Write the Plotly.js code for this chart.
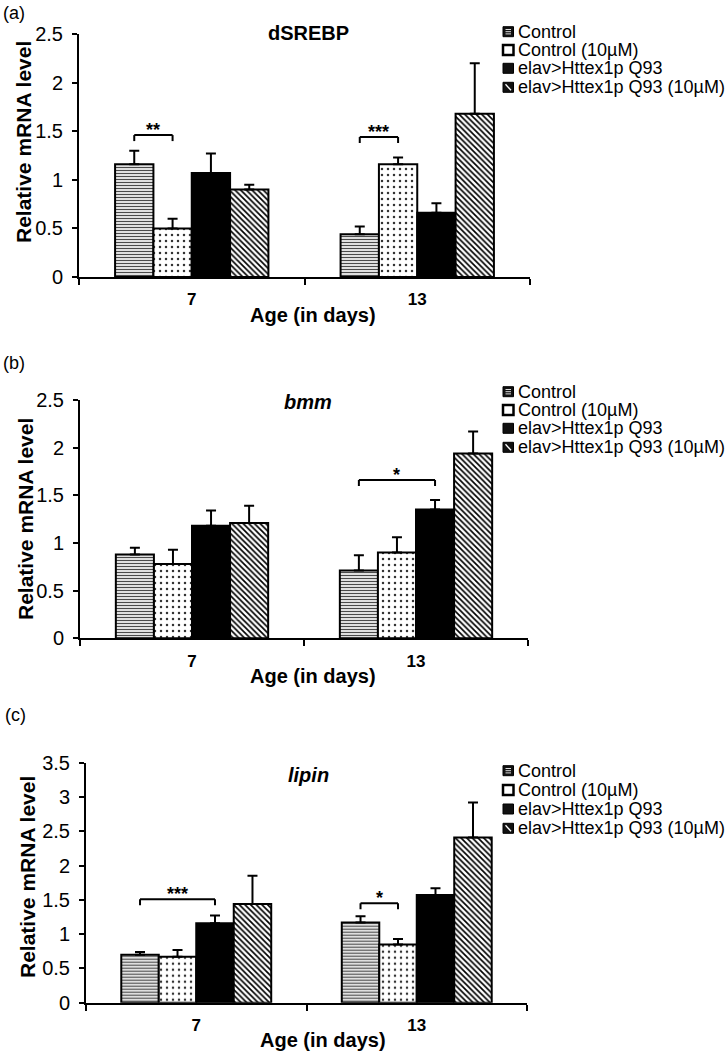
<!DOCTYPE html>
<html>
<head>
<meta charset="utf-8">
<script src="https://cdn.plot.ly/plotly-3.0.1.min.js"></script>
<style>html,body{margin:0;padding:0;background:#fff;}#chart{width:726px;height:1054px;}</style>
</head>
<body>
<div id="chart"></div>
<script>
// ---------------- DATA ----------------
const ageLabels = ["7", "13"];
const groupNames = ["Control", "Control (10µM)", "elav>Httex1p Q93", "elav>Httex1p Q93 (10µM)"];
const genes = ["dSREBP", "bmm", "lipin"];
const geneItalic = [false, true, true];
const panelLabels = ["(a)", "(b)", "(c)"];
const xAxisTitle = "Age (in days)";
const yAxisTitle = "Relative mRNA level";

// mean values per group: [day 7, day 13]
const dsrebpMeans = [[1.16, 0.44], [0.50, 1.16], [1.07, 0.66], [0.90, 1.68]];
const dsrebpErr   = [[0.14, 0.08], [0.10, 0.07], [0.20, 0.10], [0.05, 0.52]];
const bmmMeans    = [[0.88, 0.71], [0.78, 0.90], [1.18, 1.35], [1.21, 1.94]];
const bmmErr      = [[0.07, 0.16], [0.15, 0.16], [0.16, 0.10], [0.18, 0.23]];
const lipinMeans  = [[0.70, 1.17], [0.67, 0.85], [1.16, 1.57], [1.44, 2.41]];
const lipinErr    = [[0.04, 0.09], [0.10, 0.08], [0.11, 0.10], [0.41, 0.51]];
const yMax = [2.5, 2.5, 3.5];

// significance brackets
const sigGene  = [0, 0, 1, 2, 2];
const sigAge   = [0, 1, 1, 0, 1];
const sigFrom  = [0, 0, 0, 0, 0];
const sigTo    = [1, 1, 2, 2, 1];
const sigLevel = [1.46, 1.44, 1.66, 1.51, 1.45];
const sigText  = ["**", "***", "*", "***", "*"];

const allMeans = [dsrebpMeans, bmmMeans, lipinMeans];
const allErr = [dsrebpErr, bmmErr, lipinErr];

// ---------------- STYLE / LAYOUT ----------------
const W = 726, H = 1054;
const px = x => x / W, py = y => 1 - y / H;
const FONT = "Liberation Sans, Arial, Helvetica, sans-serif";
const BARGAP = 0.32;

const geo = [
  {x0: 79, x1: 530, yTop: 34,    yBot: 277,    lab: [14, 13],  title: [308, 33],    leg: [31.7, 50, 68.3, 87.3],    age: [313, 315],  ytitle: [23, 142]},
  {x0: 80, x1: 528, yTop: 400,   yBot: 638.3,  lab: [14, 363], title: [308, 401.7], leg: [391.7, 410, 428.3, 447.3], age: [313, 676],  ytitle: [25, 519]},
  {x0: 86, x1: 527, yTop: 762.7, yBot: 1002.7, lab: [15, 715], title: [308, 775],   leg: [770.7, 790, 809, 828.3],  age: [323, 1040], ytitle: [27, 877]}
];

const fills = ["#ffffff", "#ffffff", "#000000", "#ffffff"];
const patterns = [
  {shape: "-", fgcolor: "#4a4a4a", bgcolor: "#ffffff", size: 3, solidity: 0.45},
  {shape: ".", fgcolor: "#333333", bgcolor: "#ffffff", size: 6, solidity: 0.14},
  {shape: ""},
  {shape: "\\", fgcolor: "#000000", bgcolor: "#ffffff", size: 4, solidity: 0.42}
];

const traces = [];
const layout = {
  width: W, height: H,
  margin: {l: 0, r: 0, t: 0, b: 0},
  paper_bgcolor: "#fff", plot_bgcolor: "#fff",
  showlegend: false,
  barmode: "group", bargap: BARGAP, bargroupgap: 0,
  font: {family: FONT, color: "#000"},
  annotations: [], shapes: []
};

geo.forEach((g, p) => {
  const sfx = p === 0 ? "" : String(p + 1);
  const xa = "x" + sfx, ya = "y" + sfx;
  for (let i = 0; i < 4; i++) {
    traces.push({
      type: "bar", name: groupNames[i], x: ageLabels, y: allMeans[p][i],
      xaxis: xa, yaxis: ya,
      marker: {color: fills[i], pattern: patterns[i], line: {color: "#000", width: 2}},
      error_y: {type: "data", symmetric: false, array: allErr[p][i], arrayminus: allErr[p][i].map(() => 0),
                color: "#000", thickness: 2, width: 5},
      hoverinfo: "name+y"
    });
  }
  layout["xaxis" + sfx] = {
    domain: [px(g.x0), px(g.x1)], anchor: ya, type: "category", range: [-0.5, 1.5],
    showline: true, linecolor: "#000", linewidth: 2, showgrid: false, zeroline: false,
    ticks: "outside", tickson: "boundaries", ticklen: 6, tickwidth: 2, tickcolor: "#000",
    tickfont: {family: FONT, size: 17, weight: "bold", color: "#000"}, ticklabelstandoff: 6,
    fixedrange: true
  };
  layout["yaxis" + sfx] = {
    domain: [py(g.yBot), py(g.yTop)], anchor: xa, range: [0, yMax[p]], dtick: 0.5,
    showline: true, linecolor: "#000", linewidth: 2, showgrid: false, zeroline: false,
    ticks: "outside", ticklen: 5, tickwidth: 2, tickcolor: "#000",
    tickfont: {family: FONT, size: 20, color: "#000"}, ticklabelstandoff: 5,
    fixedrange: true
  };
  // panel label
  layout.annotations.push({xref: "paper", yref: "paper", x: px(g.lab[0]), y: py(g.lab[1]), xanchor: "center", yanchor: "middle",
    text: panelLabels[p], showarrow: false, font: {family: FONT, size: 18}});
  // gene title
  const t = geneItalic[p] ? "<b><i>" + genes[p] + "</i></b>" : "<b>" + genes[p] + "</b>";
  layout.annotations.push({xref: "paper", yref: "paper", x: px(g.title[0]), y: py(g.title[1]), xanchor: "center", yanchor: "middle",
    text: t, showarrow: false, font: {family: FONT, size: 20}});
  // axis titles
  layout.annotations.push({xref: "paper", yref: "paper", x: px(g.age[0]), y: py(g.age[1]), xanchor: "center", yanchor: "middle",
    text: "<b>" + xAxisTitle + "</b>", showarrow: false, font: {family: FONT, size: 20}});
  layout.annotations.push({xref: "paper", yref: "paper", x: px(g.ytitle[0]), y: py(g.ytitle[1]), xanchor: "center", yanchor: "middle",
    text: "<b>" + yAxisTitle + "</b>", textangle: -90, showarrow: false, font: {family: FONT, size: 21}});
  // legend
  for (let i = 0; i < 4; i++) {
    const cy = g.leg[i];
    layout.annotations.push({xref: "paper", yref: "paper", x: px(516), y: py(cy), xanchor: "left", yanchor: "middle",
      text: groupNames[i], showarrow: false, font: {family: FONT, size: 18}});
    const r = {type: "rect", xref: "paper", yref: "paper", x0: px(503), x1: px(513.5), y0: py(cy + 5), y1: py(cy - 5),
      line: {color: "#000", width: i === 1 ? 2.5 : 1}, fillcolor: i === 1 ? "#fff" : "#111"};
    layout.shapes.push(r);
    if (i === 0) {
      [-2.2, 0, 2.2].forEach(d => layout.shapes.push({type: "line", xref: "paper", yref: "paper",
        x0: px(505.5), x1: px(511), y0: py(cy + d), y1: py(cy + d), line: {color: "#ddd", width: 1}}));
    }
    if (i === 3) {
      layout.shapes.push({type: "line", xref: "paper", yref: "paper", x0: px(505.5), x1: px(511), y0: py(cy - 3), y1: py(cy + 3),
        line: {color: "#fff", width: 1.3}});
    }
  }
});

// significance brackets
const barW = (1 - BARGAP) / 4;
const barCenter = (age, i) => age - (1 - BARGAP) / 2 + barW * (i + 0.5);
for (let k = 0; k < sigGene.length; k++) {
  const p = sigGene[k], g = geo[p];
  const sfx = p === 0 ? "" : String(p + 1);
  const unitPx = (g.yBot - g.yTop) / yMax[p];
  const drop = 6 / unitPx;
  const xa = barCenter(sigAge[k], sigFrom[k]), xb = barCenter(sigAge[k], sigTo[k]);
  const lvl = sigLevel[k];
  const ln = {color: "#000", width: 2};
  const ref = {xref: "x" + sfx, yref: "y" + sfx};
  layout.shapes.push(Object.assign({type: "line", x0: xa, x1: xa, y0: lvl - drop, y1: lvl, line: ln}, ref));
  layout.shapes.push(Object.assign({type: "line", x0: xa, x1: xb, y0: lvl, y1: lvl, line: ln}, ref));
  layout.shapes.push(Object.assign({type: "line", x0: xb, x1: xb, y0: lvl - drop, y1: lvl, line: ln}, ref));
  layout.annotations.push(Object.assign({x: (xa + xb) / 2, y: lvl, xanchor: "center", yanchor: "middle", yshift: 5,
    text: "<b>" + sigText[k] + "</b>", showarrow: false, font: {family: FONT, size: 18}}, ref));
}

Plotly.newPlot("chart", traces, layout, {displayModeBar: false, staticPlot: true});
</script>
</body>
</html>
